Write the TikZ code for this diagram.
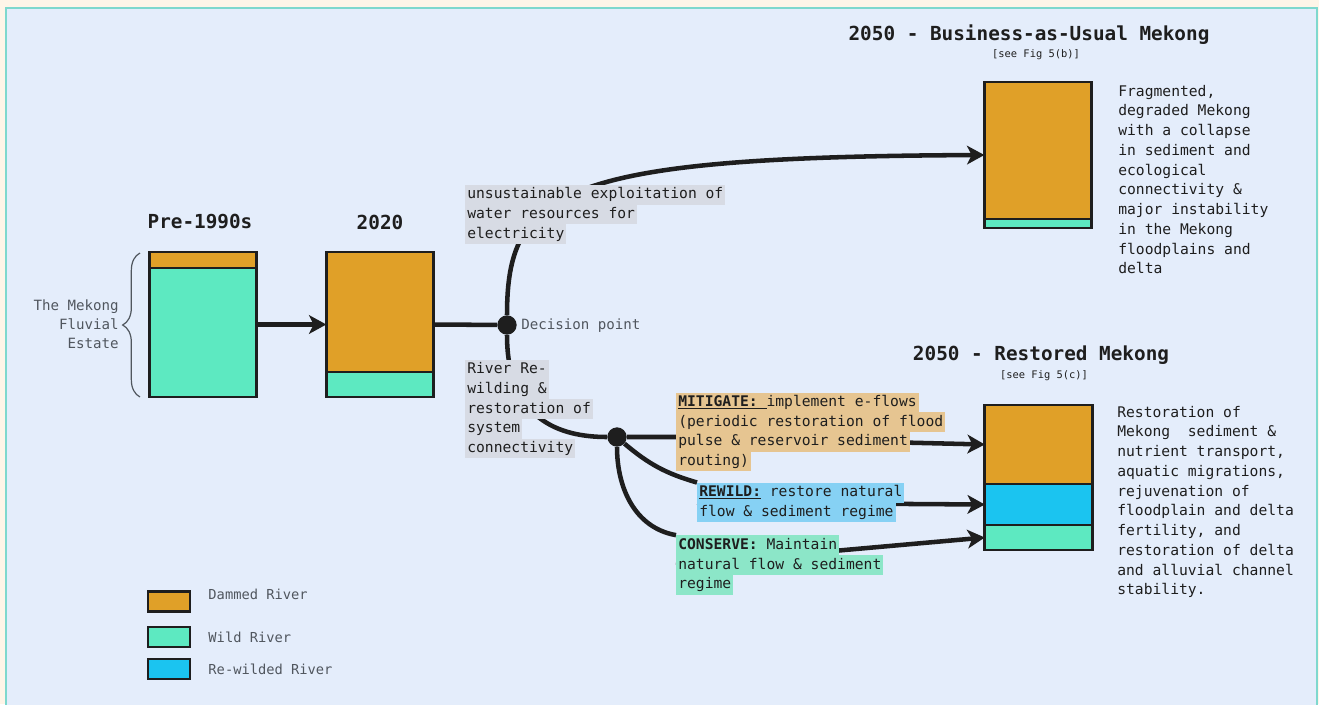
\documentclass[tikz,border=0pt]{standalone}
\usepackage{fontspec}
\setmainfont{DejaVu Sans Mono}
\usetikzlibrary{arrows.meta,positioning,calc,decorations.pathreplacing}
\definecolor{Paper}{HTML}{FEF5E8}
\definecolor{Panel}{HTML}{E4EDFB}
\definecolor{Rim}{HTML}{7ED8CE}
\definecolor{Ink}{HTML}{1E1E1E}
\definecolor{Mute}{HTML}{50565E}
\definecolor{Dammed}{HTML}{E0A028}
\definecolor{Wild}{HTML}{5DE9C1}
\definecolor{Rewild}{HTML}{1BC4F0}
\definecolor{HlGrey}{HTML}{D7DBE4}
\definecolor{HlTan}{HTML}{E6C591}
\definecolor{HlBlue}{HTML}{86D1F4}
\definecolor{HlGreen}{HTML}{8CE6C8}
\setlength{\fboxsep}{1.5pt}
\lineskiplimit=-20pt
\newcommand{\hl}[2]{\colorbox{#1}{\rule[-2.9pt]{0pt}{11.8pt}#2}}
\pgfdeclarelayer{back}
\pgfdeclarelayer{links}
\pgfsetlayers{back,links,main}
\tikzset{
 bar/.style={inner sep=0pt,outer sep=0pt,minimum width=80.5pt},
 seg/.style={draw=Ink,line width=2.2pt,inner sep=0pt,outer sep=0pt,minimum width=80.5pt,anchor=north},
 title/.style={font=\fontsize{14.5}{17}\selectfont\bfseries,text=Ink,inner sep=0pt},
 figref/.style={font=\fontsize{7.8}{9}\selectfont,text=Ink,inner sep=0pt},
 desc/.style={font=\fontsize{11}{14.8}\selectfont,text=Ink,align=left,inner sep=0pt,anchor=west},
 lab/.style={desc},
 note/.style={font=\fontsize{10.6}{14.3}\selectfont,text=Mute,inner sep=0pt},
 keytext/.style={font=\fontsize{10.3}{12}\selectfont,text=Mute,inner sep=0pt},
 dot/.style={circle,fill=Ink,minimum size=14.5pt,inner sep=0pt},
 arr/.style={-{Stealth[length=13pt,width=14pt,inset=3.5pt]},line width=3.4pt,draw=Ink},
 link/.style={line width=3.4pt,draw=Ink},
 key/.style={draw=Ink,line width=1.8pt,minimum width=31.5pt,minimum height=15pt,inner sep=0pt}
}
\begin{document}
\begin{tikzpicture}[x=0.75pt,y=-0.75pt]
\useasboundingbox (0,0) rectangle (1319,704);
\begin{pgfonlayer}{back}
\fill[Paper] (0,0) rectangle (1319,704);
\draw[Rim,fill=Panel,line width=1.5pt] (6,8) rectangle (1317,712);
\end{pgfonlayer}

% bars
\node[bar,minimum height=108.75pt] (pre) at (203,324.5) {};
\node[seg,fill=Dammed,minimum height=12pt] (pre-dam) at (pre.north) {};
\node[seg,fill=Wild,minimum height=96.75pt] (pre-wild) at (pre-dam.south) {};
\node[bar,minimum height=108.75pt] (cur) at (380,324.5) {};
\node[seg,fill=Dammed,minimum height=90pt] (cur-dam) at (cur.north) {};
\node[seg,fill=Wild,minimum height=18.75pt] (cur-wild) at (cur-dam.south) {};
\node[bar,minimum height=109.5pt] (bau) at (1038,155) {};
\node[seg,fill=Dammed,minimum height=102.75pt] (bau-dam) at (bau.north) {};
\node[seg,fill=Wild,minimum height=6.75pt] (bau-wild) at (bau-dam.south) {};
\node[bar,minimum height=108.75pt] (rest) at (1038.5,477.5) {};
\node[seg,fill=Dammed,minimum height=59.25pt] (rest-dam) at (rest.north) {};
\node[seg,fill=Rewild,minimum height=30.75pt] (rest-rew) at (rest-dam.south) {};
\node[seg,fill=Wild,minimum height=18.75pt] (rest-wild) at (rest-rew.south) {};

\node[title] (t-pre) at (200,222) {Pre-1990s};
\node[title] (t-cur) at (380,222) {2020};
\node[title] (t-bau) at (1029,35) {2050 - Business-as-Usual Mekong};
\node[figref] (r-bau) at (1036,55) {[see Fig 5(b)]};
\node[title] (t-rest) at (1041,355) {2050 - Restored Mekong};
\node[figref] (r-rest) at (1044,376) {[see Fig 5(c)]};

\draw[Mute,line width=0.9pt,decorate,decoration={brace,amplitude=13pt}] (140,397) -- (140,253);
\node[note,align=right,anchor=east] (estate) at (119,324.5) {The Mekong\\Fluvial\\Estate};

\node[dot] (dec) at (507,325) {};
\node[dot] (fork) at (617,437) {};
\node[note,anchor=west] (dec-lab) at (521,326) {Decision point};

\node[lab] (exploit) at (465,214.5) {\hl{HlGrey}{unsustainable exploitation of}\\\hl{HlGrey}{water resources for}\\\hl{HlGrey}{electricity}};
\node[lab] (rewilding) at (465,409) {\hl{HlGrey}{River Re-}\\\hl{HlGrey}{wilding \&}\\\hl{HlGrey}{restoration of}\\\hl{HlGrey}{system}\\\hl{HlGrey}{connectivity}};
\node[lab] (mit) at (676,432) {\hl{HlTan}{\underline{\textbf{MITIGATE:}\ }implement e-flows}\\\hl{HlTan}{(periodic restoration of flood}\\\hl{HlTan}{pulse \& reservoir sediment}\\\hl{HlTan}{routing)}};
\node[lab] (rew) at (697,502.5) {\hl{HlBlue}{\underline{\textbf{REWILD:}} restore natural}\\\hl{HlBlue}{flow \& sediment regime}};
\node[lab] (con) at (676,565) {\hl{HlGreen}{\textbf{CONSERVE:} Maintain}\\\hl{HlGreen}{natural flow \& sediment}\\\hl{HlGreen}{regime}};

\node[desc] (bau-txt) at (1118,179.5) {Fragmented,\\degraded Mekong\\with a collapse\\in sediment and\\ecological\\connectivity \&\\major instability\\in the Mekong\\floodplains and\\delta};
\node[desc] (rest-txt) at (1117,502) {Restoration of\\Mekong\ \ sediment \&\\nutrient transport,\\aquatic migrations,\\rejuvenation of\\floodplain and delta\\fertility, and\\restoration of delta\\and alluvial channel\\stability.};

% legend
\node[key,fill=Dammed] (k-dam) at (169,601.5) {};
\node[key,fill=Wild] (k-wild) at (169,637) {};
\node[key,fill=Rewild] (k-rew) at (169,669) {};
\node[keytext,right=12.75pt of k-dam,yshift=5pt] (l-dam) {Dammed River};
\node[keytext,right=12.75pt of k-wild] (l-wild) {Wild River};
\node[keytext,right=12.75pt of k-rew] (l-rew) {Re-wilded River};

\begin{pgfonlayer}{links}
\draw[arr] (pre.east) -- (cur.west);
\draw[link] (cur.east) -- (dec);
\draw[arr] (dec) .. controls (507,190) and (560,157) .. (bau.west);
\draw[link] (dec) .. controls (507,420) and (560,437) .. (fork);
\draw[arr] (fork) -- (fork -| mit.west) -- (rest-dam.west);
\draw[link] (fork) to[bend right=12] (rew.north west);
\draw[arr] (rew.west) -- (rest-rew.west);
\draw[link] (fork) to[out=-90,in=170] (con.north west);
\draw[arr] (con.west) -- (rest-wild.west);
\end{pgfonlayer}
\end{tikzpicture}
\end{document}
